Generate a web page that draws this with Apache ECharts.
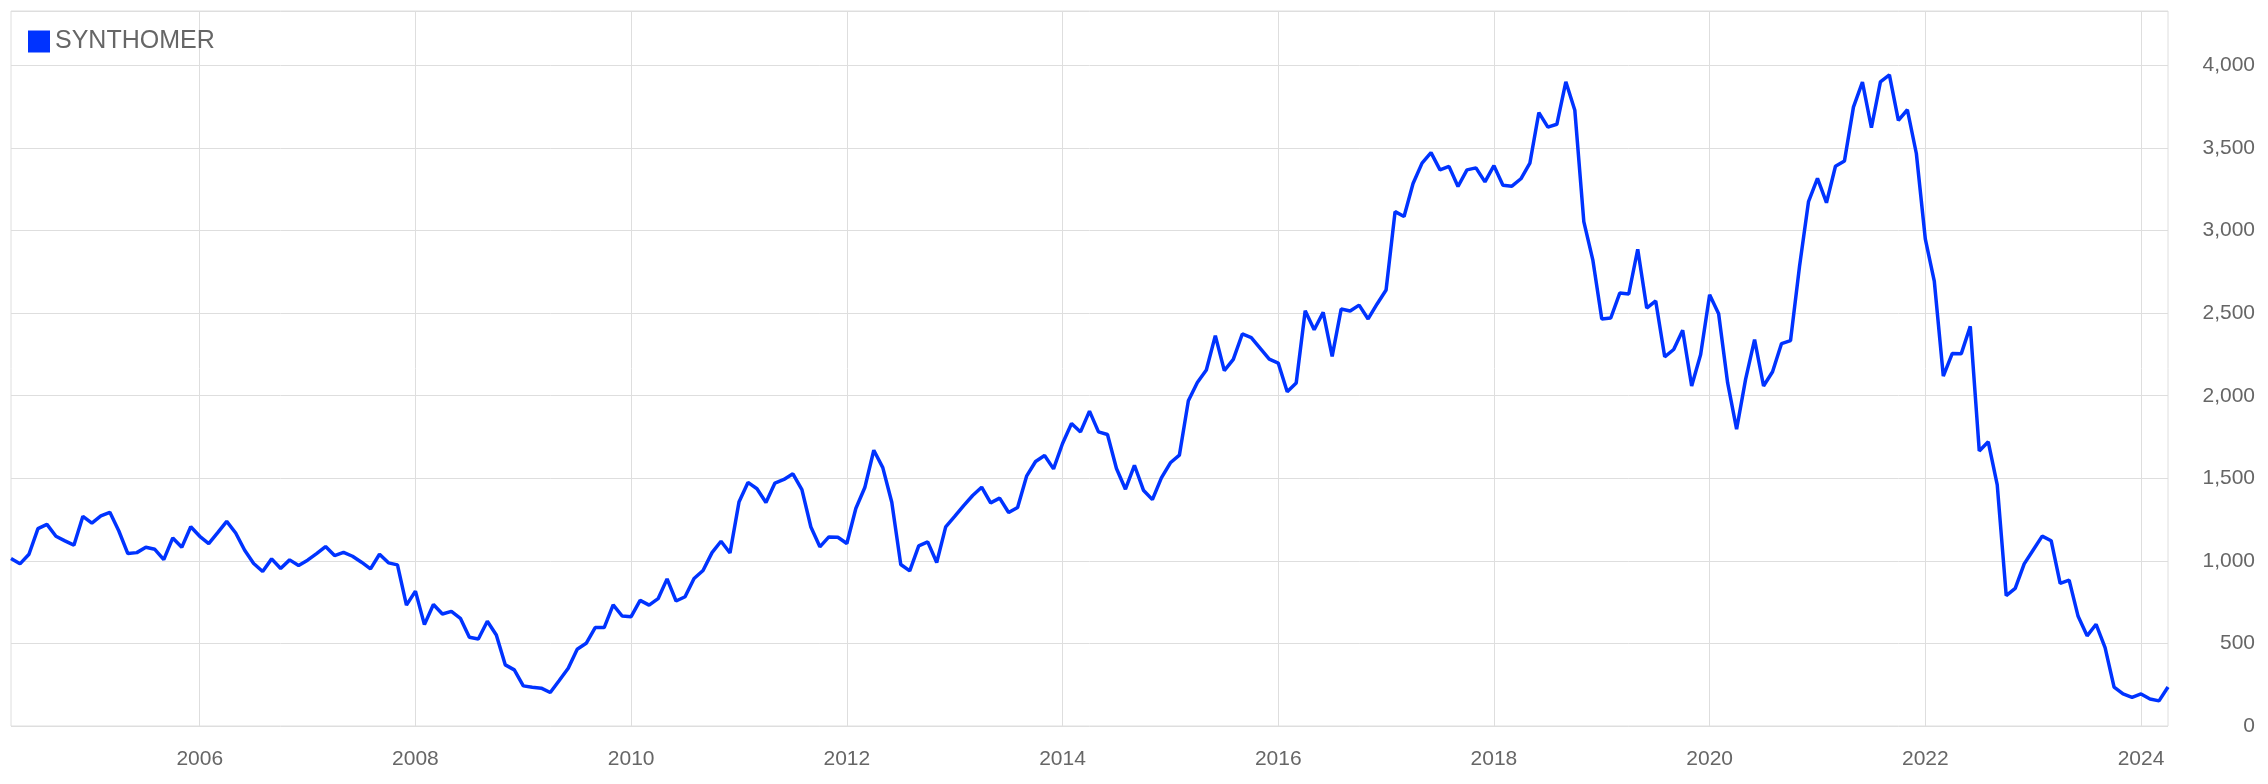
<!DOCTYPE html>
<html>
<head>
<meta charset="utf-8">
<script src="https://cdn.jsdelivr.net/npm/echarts@6/dist/echarts.min.js"></script>
<style>
  html, body { margin: 0; padding: 0; background: #fff; }
  #main { width: 2268px; height: 784px; }
</style>
</head>
<body>
<div id="main"></div>
<script>
// monthly closes, Apr 2004 .. Apr 2024
var startYear = 2004, startMonth = 4;
var seriesName = 'SYNTHOMER';
var values = [
  1014, 982, 1040, 1195, 1221, 1149, 1121, 1095, 1270, 1229, 1272, 1294,
  1181, 1044, 1050, 1082, 1070, 1008, 1139, 1082, 1207, 1149, 1105, 1171,
  1239, 1169, 1064, 984, 936, 1012, 954, 1006, 972, 1004, 1044, 1087,
  1032, 1052, 1028, 992, 952, 1040, 988, 976, 732, 817, 614, 736,
  678, 694, 652, 537, 527, 634, 551, 370, 340, 243, 235, 229,
  203, 276, 350, 465, 501, 596, 596, 734, 666, 662, 761, 732,
  771, 891, 757, 783, 893, 942, 1050, 1119, 1048, 1356, 1475, 1437,
  1354, 1471, 1493, 1527, 1431, 1205, 1085, 1145, 1143, 1105, 1317, 1444,
  1670, 1565, 1355, 978, 939, 1091, 1115, 990, 1206, 1269, 1335, 1396,
  1446, 1351, 1380, 1293, 1323, 1513, 1602, 1638, 1557, 1711, 1832, 1781,
  1907, 1781, 1765, 1559, 1434, 1579, 1428, 1371, 1503, 1594, 1640, 1970,
  2080, 2156, 2364, 2152, 2220, 2374, 2352, 2287, 2222, 2198, 2024, 2077,
  2515, 2400, 2505, 2238, 2525, 2513, 2549, 2465, 2556, 2640, 3115, 3085,
  3285, 3409, 3472, 3368, 3389, 3267, 3368, 3380, 3295, 3393, 3275, 3269,
  3314, 3409, 3715, 3627, 3644, 3901, 3729, 3054, 2823, 2465, 2471, 2622,
  2616, 2887, 2531, 2574, 2236, 2280, 2397, 2059, 2250, 2612, 2497, 2079,
  1797, 2099, 2340, 2059, 2145, 2316, 2334, 2783, 3175, 3316, 3169, 3390,
  3422, 3748, 3899, 3623, 3901, 3943, 3668, 3732, 3467, 2948, 2692, 2119,
  2256, 2255, 2420, 1666, 1721, 1460, 790, 833, 982, 1066, 1150, 1122,
  864, 883, 664, 546, 616, 475, 236, 194, 174, 194, 163, 152,
  236
];
var yTicks = [0, 500, 1000, 1500, 2000, 2500, 3000, 3500, 4000];

var months = [];
for (var i = 0; i < values.length; i++) {
  var m = startMonth - 1 + i;
  var y = startYear + Math.floor(m / 12);
  var mm = (m % 12) + 1;
  months.push(y + '-' + (mm < 10 ? '0' + mm : mm));
}

// only January of even years gets a label / grid line
function evenJan(idx, val) {
  return val.slice(5) === '01' && (+val.slice(0, 4)) % 2 === 0;
}

var font = 'Liberation Sans, Arial, Helvetica, sans-serif';
var chart = echarts.init(document.getElementById('main'));
chart.setOption({
  animation: false,
  backgroundColor: '#fff',
  grid: {
    left: 11, right: 100, top: 11, bottom: 58,
    show: true, borderColor: '#dedede', borderWidth: 1
  },
  legend: {
    data: [seriesName],
    left: 28, top: 29, padding: 0,
    icon: 'rect', itemWidth: 22, itemHeight: 22,
    textStyle: { fontSize: 25, color: '#666', fontFamily: font }
  },
  xAxis: {
    type: 'category',
    boundaryGap: false,
    data: months,
    axisLine: { show: false },
    axisTick: { show: false },
    axisLabel: {
      interval: evenJan,
      formatter: function (v) { return v.slice(0, 4); },
      fontSize: 21, color: '#666', fontFamily: font, margin: 23
    },
    splitLine: { show: true, interval: evenJan, lineStyle: { color: '#dedede', width: 1 } }
  },
  yAxis: {
    type: 'value',
    position: 'right',
    min: 0, max: 4330, interval: 500,
    axisLine: { show: false },
    axisTick: { show: false },
    axisLabel: {
      align: 'right', margin: 87,
      fontSize: 21, color: '#666', fontFamily: font,
      padding: [0, 0, 8, 0],
      formatter: function (v) {
        return yTicks.indexOf(v) >= 0 ? v.toLocaleString('en-US') : '';
      }
    },
    splitLine: { lineStyle: { color: '#dedede', width: 1 } }
  },
  series: [{
    name: seriesName,
    type: 'line',
    data: values,
    showSymbol: false,
    color: '#0033ff',
    lineStyle: { width: 3.5, color: '#0033ff' }
  }]
});
</script>
</body>
</html>
